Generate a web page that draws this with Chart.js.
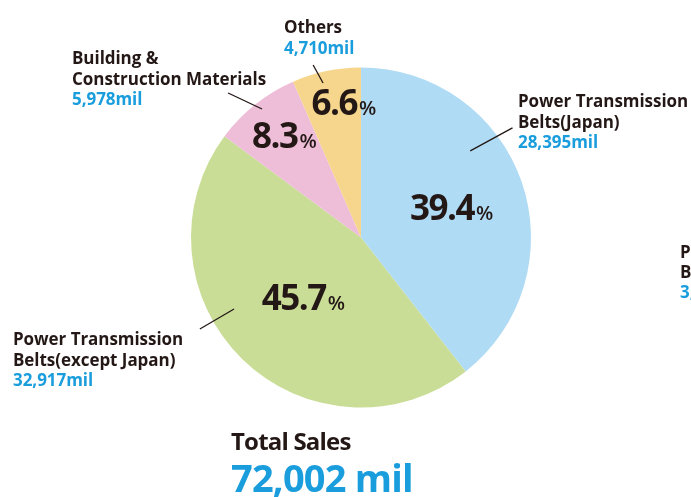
<!DOCTYPE html>
<html>
<head>
<meta charset="utf-8">
<script src="https://cdn.jsdelivr.net/npm/chart.js@4"></script>
<style>
  html, body { margin: 0; padding: 0; background: #fff; }
  #wrap { width: 691px; height: 497px; position: relative; }
</style>
</head>
<body>
<div id="wrap"><canvas id="pie" width="691" height="497"></canvas></div>
<script>
// --- data ---
const segments = [
  ['Power Transmission', 'Belts(Japan)'],
  ['Power Transmission', 'Belts(except Japan)'],
  ['Building &', 'Construction Materials'],
  ['Others']
];
const salesMil = [28395, 32917, 5978, 4710];
const salesText = ['28,395mil', '32,917mil', '5,978mil', '4,710mil'];
const shares = ['39.4', '45.7', '8.3', '6.6'];
const totalLabel = 'Total Sales';
const totalText = '72,002 mil';

const sliceColors = ['#afdbf5', '#cadd97', '#eebdd8', '#f6d68d'];
const INK = '#231815';
const BLUE = '#1a9ddc';
const FONT = '"Open Sans", "Noto Sans", sans-serif';

// label placement (layout only): percent label polar pos, leader line polar ends, text anchor
const layoutCfg = [
  { pct: [-18, 0.56],   line: [[-38.4, 0.82], [-35.9, 1.10]], text: [518, 107] },
  { pct: [133.8, 0.49], line: [[150.6, 0.857], [150.4, 1.09]], text: [13, 345] },
  { pct: [233.1, 0.75], line: [[232.4, 0.954], [227.4, 1.155]], text: [72, 64] },
  { pct: [262.8, 0.80], line: [[256.2, 0.936], [254.5, 1.053]], text: [284, 33] }
];

function polar(cx, cy, r, deg, f) {
  const a = deg * Math.PI / 180;
  return [cx + Math.cos(a) * r * f, cy + Math.sin(a) * r * f];
}

const labelPlugin = {
  id: 'pieLabels',
  afterDatasetsDraw(chart) {
    const ctx = chart.ctx;
    const arc = chart.getDatasetMeta(0).data[0];
    const cx = arc.x, cy = arc.y, r = arc.outerRadius;
    ctx.save();
    ctx.textBaseline = 'alphabetic';
    ctx.textAlign = 'left';

    layoutCfg.forEach((cfg, i) => {
      // percentage inside slice
      const [px, py] = polar(cx, cy, r, cfg.pct[0], cfg.pct[1]);
      ctx.font = 'bold 35px ' + FONT;
      ctx.letterSpacing = '-1.5px';
      const numW = ctx.measureText(shares[i]).width;
      ctx.font = '600 20px ' + FONT;
      ctx.letterSpacing = '0px';
      const pctW = ctx.measureText('%').width;
      const x0 = px - (numW + pctW + 2) / 2;
      const base = py + 12;
      ctx.fillStyle = INK;
      ctx.font = 'bold 35px ' + FONT;
      ctx.letterSpacing = '-1.5px';
      ctx.fillText(shares[i], x0, base);
      ctx.font = '600 20px ' + FONT;
      ctx.letterSpacing = '0px';
      ctx.fillText('%', x0 + numW + 2, base);

      // leader line
      const a = polar(cx, cy, r, cfg.line[0][0], cfg.line[0][1]);
      const b = polar(cx, cy, r, cfg.line[1][0], cfg.line[1][1]);
      ctx.strokeStyle = INK;
      ctx.lineWidth = 1.3;
      ctx.beginPath();
      ctx.moveTo(a[0], a[1]);
      ctx.lineTo(b[0], b[1]);
      ctx.stroke();

      // outside label
      let [tx, ty] = cfg.text;
      ctx.font = 'bold 17px ' + FONT;
      ctx.letterSpacing = '-0.05px';
      segments[i].forEach(line => {
        ctx.fillStyle = INK;
        ctx.fillText(line, tx, ty);
        ty += 20.5;
      });
      ctx.fillStyle = BLUE;
      ctx.fillText(salesText[i], tx, ty);
    });

    // clipped label from neighbouring chart
    ctx.font = 'bold 17px ' + FONT;
    ctx.letterSpacing = '-0.05px';
    ctx.fillStyle = INK;
    ctx.fillText('Power Transmission', 680, 258);
    ctx.fillText('Belts', 680, 278);
    ctx.fillStyle = BLUE;
    ctx.fillText('3,', 680, 298);

    // total
    ctx.fillStyle = INK;
    ctx.font = 'bold 24px ' + FONT;
    ctx.letterSpacing = '-0.8px';
    ctx.fillText(totalLabel, 231, 450);
    ctx.fillStyle = BLUE;
    ctx.font = 'bold 38px ' + FONT;
    ctx.letterSpacing = '-0.8px';
    ctx.fillText(totalText, 231, 492);
    ctx.restore();
  }
};

new Chart(document.getElementById('pie'), {
  type: 'pie',
  data: {
    labels: segments.map(s => s.join(' ')),
    datasets: [{
      data: salesMil,
      backgroundColor: sliceColors,
      borderWidth: 0
    }]
  },
  options: {
    responsive: false,
    animation: false,
    layout: { padding: { top: 67, bottom: 89, left: 191, right: 160 } },
    plugins: {
      legend: { display: false },
      tooltip: { enabled: false }
    }
  },
  plugins: [labelPlugin]
});
</script>
</body>
</html>
